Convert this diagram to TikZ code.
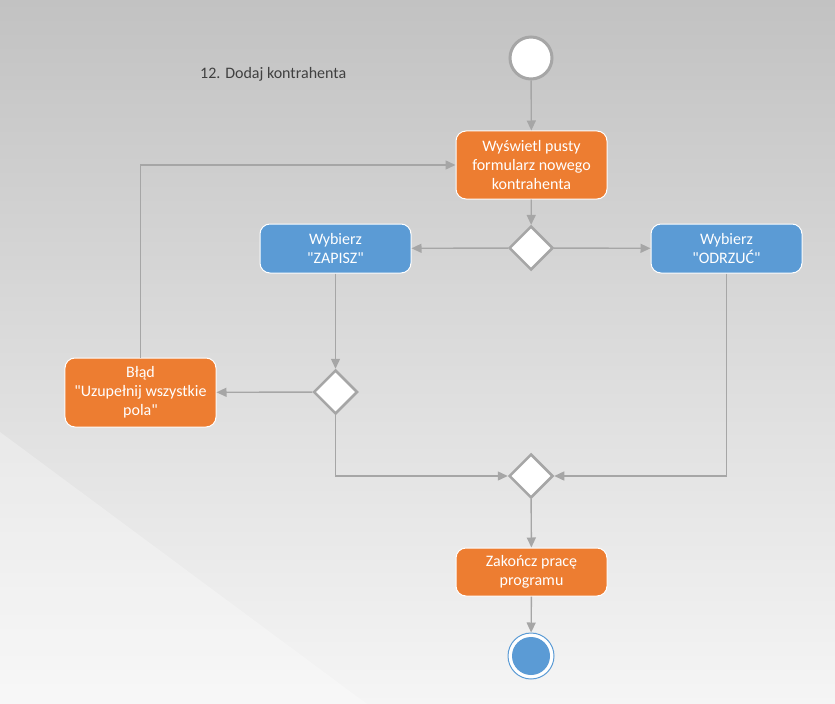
\documentclass[tikz,border=0pt]{standalone}
\usepackage{fontspec}
\setmainfont{Carlito}
% plain family without the TeX quote mapping, so " stays a straight quote
\newfontfamily\labelfont{Carlito}
\usetikzlibrary{arrows.meta,shapes.geometric}
\definecolor{actorange}{HTML}{ED7D31}
\definecolor{actblue}{HTML}{5B9BD5}
\definecolor{flowgray}{HTML}{A6A6A6}
\definecolor{titlegray}{HTML}{404040}
\tikzset{
  action/.style={rectangle, rounded corners=10bp, draw=white, line width=1bp,
    text=white, align=center, inner sep=0pt, minimum width=151bp,
    font=\labelfont\fontsize{16bp}{19.2bp}\selectfont},
  orangebox/.style={action, fill=actorange},
  bluebox/.style={action, fill=actblue},
  decision/.style={diamond, aspect=1, draw=flowgray, line width=2.5bp, fill=white,
    inner sep=0pt, minimum width=44bp, minimum height=44bp},
  flow/.style={draw=flowgray, line width=1.4bp,
    -{Triangle[length=10bp,width=9bp]}},
}
\begin{document}
\begin{tikzpicture}[x=1bp,y=-1bp]
  % page background
  \useasboundingbox (0,0) rectangle (835,704);
  \shade[top color={rgb,255:red,194;green,194;blue,194},
         bottom color={rgb,255:red,245;green,245;blue,245}]
    (0,0) rectangle (835,704);
  \fill[white, opacity=0.28] (0,432) -- (367,704) -- (0,704) -- cycle;

  % title
  \node[text=titlegray, anchor=west, inner sep=0pt,
    font=\labelfont\fontsize{16bp}{19bp}\selectfont]
    (title) at (200,74) {12. Dodaj kontrahenta};

  % start / end
  \node[circle, draw=flowgray, line width=3bp, fill=white, minimum size=42bp,
    inner sep=0pt] (start) at (531,58) {};
  \node[circle, draw=actblue, line width=1bp, fill=white, minimum size=46bp,
    inner sep=0pt] (end) at (531,656) {};
  \node[circle, fill=actblue, minimum size=38bp, inner sep=0pt] (endcore)
    at (531,656) {};

  % actions
  \node[orangebox, minimum height=68bp] (show) at (531.5,165)
    {Wyświetl pusty\\formularz nowego\\kontrahenta};
  \node[bluebox, minimum height=49bp] (save) at (335.5,248.5)
    {Wybierz\\"ZAPISZ"};
  \node[bluebox, minimum height=49bp] (reject) at (726.5,248.5)
    {Wybierz\\"ODRZUĆ"};
  \node[orangebox, minimum height=69bp] (error) at (140.5,392.5)
    {Błąd\\"Uzupełnij wszystkie\\pola"};
  \node[orangebox, minimum height=48bp] (finish) at (531.5,572)
    {Zakończ pracę\\programu};

  % decisions
  \node[decision] (choice) at (531,248) {};
  \node[decision] (check) at (335.5,392) {};
  \node[decision] (merge) at (531,476) {};

  % flow
  \draw[flow] (start) -- (show);
  \draw[flow] (show) -- (choice);
  \draw[flow] (choice) -- (save);
  \draw[flow] (choice) -- (reject);
  \draw[flow] (save) -- (check);
  \draw[flow] (check) -- (error);
  \draw[flow] (error.north) |- (show.west);
  \draw[flow] (check.south) |- (merge.west);
  \draw[flow] (reject.south) |- (merge.east);
  \draw[flow] (merge) -- (finish);
  \draw[flow] (finish) -- (end);
\end{tikzpicture}
\end{document}
